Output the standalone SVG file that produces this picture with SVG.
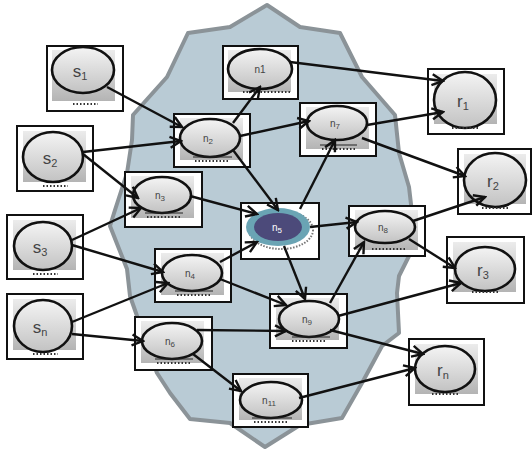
<svg xmlns="http://www.w3.org/2000/svg" width="532" height="456" viewBox="0 0 532 456">
<defs>
<linearGradient id="sq" x1="0" y1="0" x2="0" y2="1">
<stop offset="0" stop-color="#ececec"/>
<stop offset="1" stop-color="#b4b4b4"/>
</linearGradient>
<linearGradient id="el" x1="0" y1="0" x2="0" y2="1">
<stop offset="0" stop-color="#f4f4f4"/>
<stop offset="1" stop-color="#c2c2c2"/>
</linearGradient>
<marker id="ah" viewBox="0 0 14 14" refX="12" refY="7" markerWidth="14" markerHeight="14" markerUnits="userSpaceOnUse" orient="auto">
<path d="M1,1.5 L12,7 L1,12.5" fill="none" stroke="#111" stroke-width="2.4"/>
</marker>
<style>
.box{fill:#fff;stroke:#111;stroke-width:2}
.in{fill:url(#sq)}
.el{fill:url(#el);stroke:#111;stroke-width:2.6}
.dots{stroke:#333;stroke-width:2;stroke-dasharray:1.5 2}
.lbl{font-family:"Liberation Sans",Arial,sans-serif;fill:#444;text-anchor:middle}
.big{font-size:17px}
.sm{font-size:10px}
.edge{fill:none;stroke:#111;stroke-width:2.4;marker-end:url(#ah)}
</style>
</defs>
<rect width="532" height="456" fill="#fff"/>
<polygon id="cloud" points="267,5 300,27 340,33 362,77 395,115 399,153 409,187 414,230 409,256 399,276 397,293 399,333 382,346 362,383 342,418 300,425 265,447 230,423 190,419 170,393 157,373 130,296 127,269 110,226 115,210 127,173 132,140 133,115 167,77 188,33 230,27" fill="#b9cbd5" stroke="#8b9398" stroke-width="4" stroke-linejoin="round"/>

<g id="s1"><rect class="box" x="47" y="46" width="76" height="65"/><rect class="in" x="52" y="50" width="63" height="51"/><ellipse class="el" cx="83" cy="70" rx="31" ry="23"/><line class="dots" x1="73" y1="104" x2="98" y2="104"/><text class="lbl big" x="80" y="77">s<tspan font-size="11" dy="3">1</tspan></text></g>
<g id="s2"><rect class="box" x="17" y="126" width="76" height="65"/><rect class="in" x="23" y="131" width="63" height="51"/><ellipse class="el" cx="53" cy="157" rx="30" ry="25"/><line class="dots" x1="43" y1="186" x2="68" y2="186"/><text class="lbl big" x="50" y="164">s<tspan font-size="11" dy="3">2</tspan></text></g>
<g id="s3"><rect class="box" x="7" y="215" width="76" height="64"/><rect class="in" x="13" y="220" width="63" height="50"/><ellipse class="el" cx="43" cy="246" rx="29" ry="24"/><line class="dots" x1="33" y1="274" x2="58" y2="274"/><text class="lbl big" x="40" y="253">s<tspan font-size="11" dy="3">3</tspan></text></g>
<g id="sn"><rect class="box" x="7" y="294" width="76" height="65"/><rect class="in" x="13" y="299" width="63" height="51"/><ellipse class="el" cx="43" cy="326" rx="29" ry="26"/><line class="dots" x1="33" y1="354" x2="58" y2="354"/><text class="lbl big" x="40" y="333">s<tspan font-size="11" dy="3">n</tspan></text></g>

<g id="n1"><rect class="box" x="223" y="46" width="75" height="53"/><rect class="in" x="228" y="50" width="63" height="42"/><ellipse class="el" cx="260" cy="69" rx="32" ry="20"/><line class="dots" x1="243" y1="92" x2="290" y2="92"/><text class="lbl sm" x="260" y="73">n1</text></g>
<g id="n2"><rect class="box" x="174" y="114" width="76" height="53"/><rect class="in" x="180" y="118" width="63" height="42"/><ellipse class="el" cx="210" cy="138" rx="30" ry="19"/><line x1="193" y1="157" x2="232" y2="157" stroke="#222" stroke-width="1"/><line class="dots" x1="195" y1="161" x2="230" y2="161"/><text class="lbl sm" x="208" y="142">n<tspan font-size="8" dy="2">2</tspan></text></g>
<g id="n3"><rect class="box" x="125" y="172" width="77" height="55"/><rect class="in" x="131" y="176" width="63" height="42"/><ellipse class="el" cx="162" cy="195" rx="29" ry="18"/><line x1="145" y1="213" x2="183" y2="213" stroke="#222" stroke-width="1"/><line class="dots" x1="147" y1="217" x2="180" y2="217"/><text class="lbl sm" x="160" y="199">n<tspan font-size="8" dy="2">3</tspan></text></g>
<g id="n4"><rect class="box" x="155" y="249" width="76" height="53"/><rect class="in" x="161" y="253" width="63" height="42"/><ellipse class="el" cx="192" cy="273" rx="30" ry="18"/><line x1="175" y1="291" x2="213" y2="291" stroke="#222" stroke-width="1"/><line class="dots" x1="177" y1="295" x2="210" y2="295"/><text class="lbl sm" x="190" y="277">n<tspan font-size="8" dy="2">4</tspan></text></g>
<g id="n5"><rect class="box" x="241" y="203" width="78" height="56"/><ellipse cx="281" cy="230" rx="32" ry="19" fill="none" stroke="#777" stroke-width="2" stroke-dasharray="1.5 1.5"/><ellipse cx="278" cy="227" rx="32" ry="19" fill="#6aa4b4"/><ellipse cx="278" cy="227" rx="24" ry="14" fill="#4c4a7a"/><text class="sm" x="277" y="231" font-family="Liberation Sans,Arial,sans-serif" fill="#fff" text-anchor="middle">n<tspan font-size="8" dy="2">5</tspan></text></g>
<g id="n6"><rect class="box" x="135" y="317" width="77" height="53"/><rect class="in" x="141" y="321" width="63" height="42"/><ellipse class="el" cx="172" cy="341" rx="30" ry="18"/><line x1="155" y1="359" x2="193" y2="359" stroke="#222" stroke-width="1"/><line class="dots" x1="157" y1="363" x2="190" y2="363"/><text class="lbl sm" x="170" y="345">n<tspan font-size="8" dy="2">6</tspan></text></g>
<g id="n7"><rect class="box" x="300" y="103" width="76" height="53"/><rect class="in" x="306" y="107" width="63" height="42"/><ellipse class="el" cx="337" cy="123" rx="30" ry="17"/><line x1="320" y1="145" x2="357" y2="145" stroke="#222" stroke-width="1"/><line class="dots" x1="322" y1="149" x2="355" y2="149"/><text class="lbl sm" x="335" y="127">n<tspan font-size="8" dy="2">7</tspan></text></g>
<g id="n8"><rect class="box" x="349" y="206" width="76" height="50"/><rect class="in" x="355" y="210" width="63" height="40"/><ellipse class="el" cx="385" cy="227" rx="30" ry="16"/><line class="dots" x1="372" y1="249" x2="405" y2="249"/><text class="lbl sm" x="383" y="231">n<tspan font-size="8" dy="2">8</tspan></text></g>
<g id="n9"><rect class="box" x="270" y="294" width="77" height="54"/><rect class="in" x="276" y="298" width="63" height="42"/><ellipse class="el" cx="309" cy="319" rx="30" ry="18"/><line x1="292" y1="337" x2="330" y2="337" stroke="#222" stroke-width="1"/><line class="dots" x1="292" y1="341" x2="325" y2="341"/><text class="lbl sm" x="307" y="323">n<tspan font-size="8" dy="2">9</tspan></text></g>
<g id="n11"><rect class="box" x="233" y="374" width="75" height="53"/><rect class="in" x="239" y="378" width="63" height="42"/><ellipse class="el" cx="271" cy="400" rx="31" ry="18"/><line x1="252" y1="418" x2="292" y2="418" stroke="#222" stroke-width="1"/><line class="dots" x1="254" y1="422" x2="288" y2="422"/><text class="lbl sm" x="269" y="404">n<tspan font-size="8" dy="2">11</tspan></text></g>

<g id="r1"><rect class="box" x="428" y="69" width="76" height="65"/><rect class="in" x="434" y="74" width="63" height="50"/><ellipse class="el" cx="465" cy="100" rx="31" ry="28"/><line class="dots" x1="452" y1="128" x2="478" y2="128"/><text class="lbl big" x="463" y="107">r<tspan font-size="11" dy="3">1</tspan></text></g>
<g id="r2"><rect class="box" x="458" y="149" width="73" height="65"/><rect class="in" x="464" y="154" width="62" height="50"/><ellipse class="el" cx="495" cy="180" rx="31" ry="27"/><line class="dots" x1="482" y1="208" x2="508" y2="208"/><text class="lbl big" x="493" y="187">r<tspan font-size="11" dy="3">2</tspan></text></g>
<g id="r3"><rect class="box" x="447" y="237" width="77" height="66"/><rect class="in" x="453" y="242" width="63" height="50"/><ellipse class="el" cx="485" cy="269" rx="30" ry="22"/><line class="dots" x1="472" y1="292" x2="498" y2="292"/><text class="lbl big" x="483" y="276">r<tspan font-size="11" dy="3">3</tspan></text></g>
<g id="rn"><rect class="box" x="409" y="339" width="75" height="66"/><rect class="in" x="415" y="344" width="63" height="50"/><ellipse class="el" cx="445" cy="369" rx="30" ry="23"/><line class="dots" x1="432" y1="394" x2="458" y2="394"/><text class="lbl big" x="443" y="376">r<tspan font-size="11" dy="3">n</tspan></text></g>

<g id="connectors">
<line class="edge" x1="107" y1="87" x2="182" y2="127"/>
<line class="edge" x1="83" y1="152" x2="181" y2="141"/>
<line class="edge" x1="83" y1="154" x2="138" y2="198"/>
<line class="edge" x1="72" y1="240" x2="141" y2="208"/>
<line class="edge" x1="72" y1="245" x2="163" y2="272"/>
<line class="edge" x1="72" y1="322" x2="168" y2="283"/>
<line class="edge" x1="72" y1="334" x2="143" y2="341"/>
<line class="edge" x1="233" y1="123" x2="260" y2="87"/>
<line class="edge" x1="240" y1="136" x2="309" y2="121"/>
<line class="edge" x1="233" y1="150" x2="278" y2="210"/>
<line class="edge" x1="190" y1="196" x2="257" y2="214"/>
<line class="edge" x1="220" y1="262" x2="257" y2="242"/>
<line class="edge" x1="300" y1="209" x2="335" y2="140"/>
<line class="edge" x1="310" y1="227" x2="357" y2="222"/>
<line class="edge" x1="284" y1="246" x2="305" y2="299"/>
<line class="edge" x1="220" y1="279" x2="286" y2="305"/>
<line class="edge" x1="197" y1="330" x2="286" y2="331"/>
<line class="edge" x1="193" y1="354" x2="241" y2="391"/>
<line class="edge" x1="330" y1="303" x2="364" y2="242"/>
<line class="edge" x1="338" y1="316" x2="461" y2="283"/>
<line class="edge" x1="330" y1="330" x2="423" y2="354"/>
<line class="edge" x1="299" y1="398" x2="415" y2="368"/>
<line class="edge" x1="290" y1="62" x2="443" y2="81"/>
<line class="edge" x1="367" y1="125" x2="443" y2="112"/>
<line class="edge" x1="362" y1="138" x2="465" y2="176"/>
<line class="edge" x1="413" y1="221" x2="485" y2="197"/>
<line class="edge" x1="409" y1="239" x2="455" y2="268"/>
</g>
</svg>
